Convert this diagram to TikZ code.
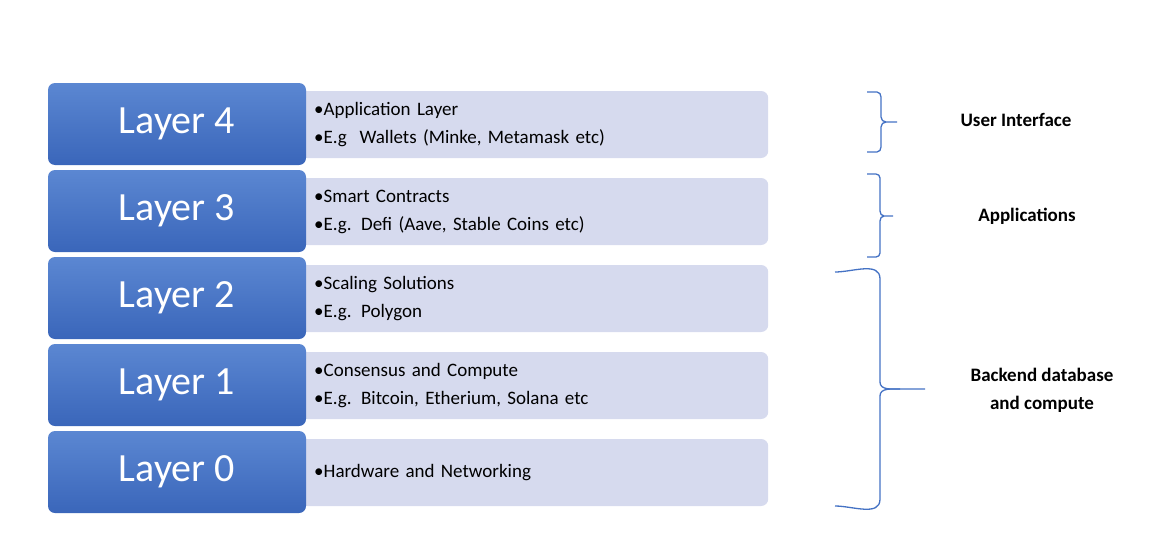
\documentclass[tikz,border=0pt]{standalone}
\usepackage{fontspec}
\setmainfont{Carlito}
\usetikzlibrary{positioning}
\definecolor{layertop}{HTML}{5B87D2}
\definecolor{layerbot}{HTML}{3A66BA}
\definecolor{infofill}{HTML}{D6DAEE}
\definecolor{bracecol}{HTML}{4472C4}
\tikzset{layerbox/.style={rounded corners=7pt,top color=layertop,bottom color=layerbot,
  minimum width=258pt,minimum height=82pt,text=white,font=\fontsize{40}{40}\selectfont},
  infobox/.style={rounded corners=7pt,fill=infofill,minimum width=468pt,minimum height=67pt,
  anchor=west,text width=440pt,align=left,font=\fontsize{19}{28}\selectfont},
  bracestyle/.style={draw=bracecol,line width=1.3pt},
  sidelabel/.style={font=\bfseries\fontsize{19}{28}\selectfont,align=center}}
\begin{document}
\begin{tikzpicture}[x=1pt,y=-1pt]
\useasboundingbox (0,0) rectangle (1175,546);
% info rows first, layer boxes overlap them
\node[infobox] (Info4) at (300,124.5) {\textbullet Application Layer\\\textbullet E.g\ \ Wallets (Minke, Metamask etc)};
\node[infobox] (Info3) at (300,211.5) {\textbullet Smart Contracts\\\textbullet E.g. Defi (Aave, Stable Coins etc)};
\node[infobox] (Info2) at (300,298.5) {\textbullet Scaling Solutions\\\textbullet E.g. Polygon};
\node[infobox] (Info1) at (300,385.5) {\textbullet Consensus and Compute\\\textbullet E.g. Bitcoin, Etherium, Solana etc};
\node[infobox] (Info0) at (300,472.5) {\textbullet Hardware and Networking};
\node[layerbox] (Layer4) at (177,124) {Layer 4};
\node[layerbox] (Layer3) at (177,211) {Layer 3};
\node[layerbox] (Layer2) at (177,298) {Layer 2};
\node[layerbox] (Layer1) at (177,385) {Layer 1};
\node[layerbox] (Layer0) at (177,472) {Layer 0};
% braces
\draw[bracestyle] (867,92) -- (877,92) to[out=0,in=90] (881,97) -- (881,117)
  to[out=-90,in=180] (886,122) -- (897,122);
\draw[bracestyle] (886,122) to[out=180,in=90] (881,127) -- (881,147) to[out=-90,in=0] (877,152) -- (867,152);
\draw[bracestyle] (867,174) -- (876,174) to[out=0,in=90] (880,178) -- (880,211)
  to[out=-90,in=180] (884,216) -- (893,216);
\draw[bracestyle] (884,216) to[out=180,in=90] (880,221) -- (880,253) to[out=-90,in=0] (876,257) -- (867,257);
\draw[bracestyle] (835,272) to[out=0,in=90] (880,279) -- (880,382)
  to[out=-90,in=180] (900,389) -- (925,389);
\draw[bracestyle] (900,389) to[out=180,in=90] (880,396) -- (880,499) to[out=-90,in=0] (835,506);
\node[sidelabel] (UserIf) at (1016,120) {User Interface};
\node[sidelabel] (Apps) at (1027,216) {Applications};
\node[sidelabel] (Backend) at (1042,390) {Backend database\\and compute};
\end{tikzpicture}
\end{document}
